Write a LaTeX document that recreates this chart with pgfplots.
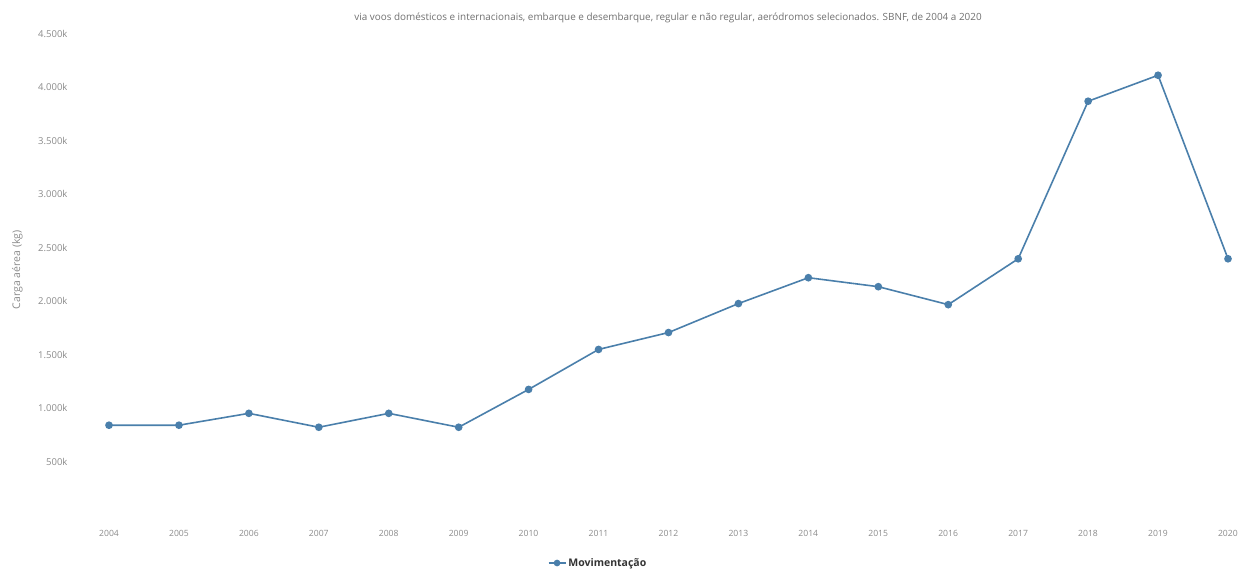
\documentclass[border=0pt]{standalone}
\usepackage{pgfplots}
\pgfplotsset{compat=1.18}
\usepackage{fontspec}
\setmainfont{Open Sans}
\definecolor{linec}{HTML}{4A7FAB}
\definecolor{tickc}{HTML}{8A8A8A}
\definecolor{subc}{HTML}{707070}
\begin{document}
\begin{tikzpicture}[x=1pt,y=1pt]
\path[use as bounding box] (0,0) rectangle (1239,568);
\node[text=subc, font=\fontsize{9.9}{11}\selectfont] at (668,550) {via voos domésticos e internacionais, embarque e desembarque, regular e não regular, aeródromos selecionados. SBNF, de 2004 a 2020};
\begin{axis}[
  at={(109pt,53pt)}, anchor=south west,
  scale only axis, width=1119pt, height=481pt,
  xmin=2004, xmax=2020, ymin=0, ymax=4500,
  clip=false,
  axis line style={draw=none},
  major tick style={draw=none},
  xtick={2004,...,2020},
  xticklabels={2004,2005,2006,2007,2008,2009,2010,2011,2012,2013,2014,2015,2016,2017,2018,2019,2020},
  ytick={500,1000,...,4500},
  yticklabels={500k,1.000k,1.500k,2.000k,2.500k,3.000k,3.500k,4.000k,4.500k},
  /pgf/number format/assume math mode=true,
  ticklabel style={text=tickc},
  xticklabel style={yshift=-12pt, font=\fontsize{8.6}{9}\selectfont},
  yticklabel style={xshift=-38pt, font=\fontsize{9.5}{10}\selectfont},
  ylabel={Carga aérea (kg)},
  ylabel style={text=tickc, font=\fontsize{10.5}{11}\selectfont, at={(axis description cs:-0.082,0.51)}, anchor=center},
  legend style={at={(axis description cs:0.437,-0.0998)}, anchor=center, draw=none, fill=none, font=\bfseries\fontsize{10.5}{11}\selectfont, text=black!80, legend cell align=left},
  legend image post style={mark size=2.5pt},
]
\addplot[color=linec, line width=1.6pt, mark=*, mark size=3pt, mark options={fill=linec, draw=linec}] coordinates {
(2004,840) (2005,840) (2006,951) (2007,821) (2008,951) (2009,821) (2010,1175) (2011,1549) (2012,1707) (2013,1978) (2014,2220) (2015,2136) (2016,1968) (2017,2397) (2018,3871) (2019,4114) (2020,2397)
};
\addlegendentry{Movimentação}
\end{axis}
\end{tikzpicture}
\end{document}
